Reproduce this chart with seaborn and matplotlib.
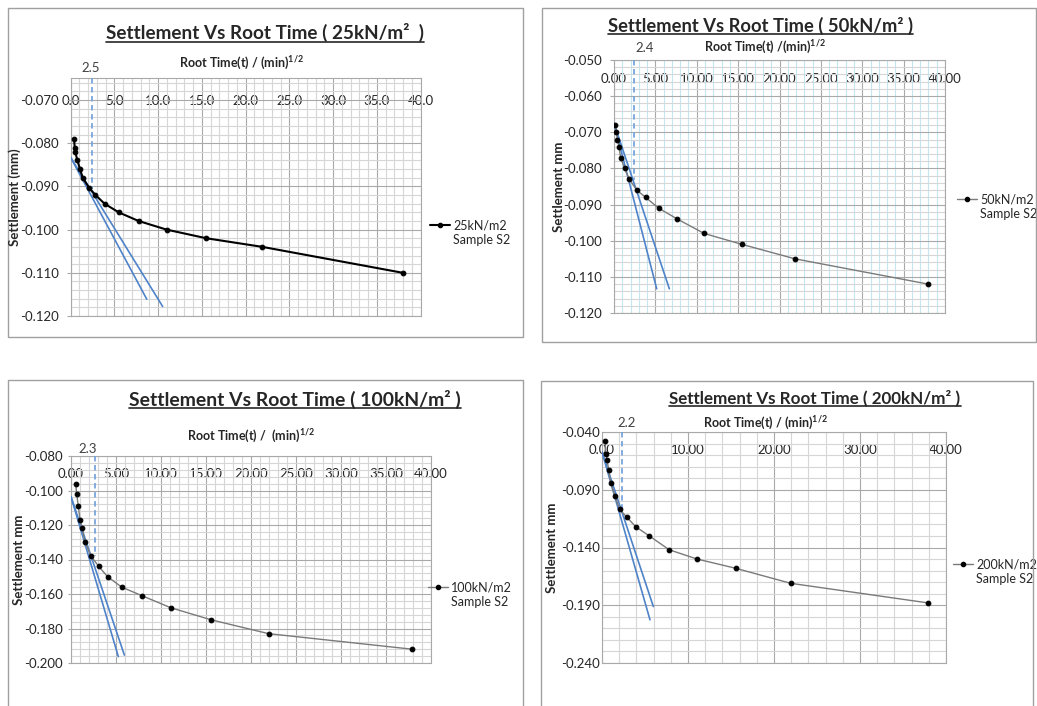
import matplotlib
matplotlib.use("Agg")
import matplotlib.pyplot as plt
import seaborn as sns
import pandas as pd
from matplotlib.lines import Line2D
from matplotlib.patches import Rectangle
from matplotlib.ticker import MultipleLocator, FormatStrFormatter

# ---------------- data ----------------
root_time_25 = [0.38, 0.46, 0.53, 0.76, 1.07, 1.37, 2.10, 2.83, 3.87, 5.48, 7.75, 10.95, 15.49, 21.91, 37.95]
settle_25 = [-0.079, -0.081, -0.082, -0.084, -0.086, -0.088, -0.0903, -0.092, -0.094, -0.096, -0.098, -0.100, -0.102, -0.104, -0.110]

root_time_50 = [0.15, 0.30, 0.42, 0.60, 0.80, 1.28, 1.85, 2.75, 3.82, 5.40, 7.65, 10.90, 15.45, 21.85, 37.95]
settle_50 = [-0.068, -0.070, -0.072, -0.074, -0.077, -0.080, -0.083, -0.086, -0.088, -0.091, -0.094, -0.098, -0.101, -0.105, -0.112]

root_time_100 = [0.52, 0.63, 0.81, 1.00, 1.26, 1.56, 2.22, 3.08, 4.07, 5.63, 7.89, 11.10, 15.60, 21.96, 37.90]
settle_100 = [-0.096, -0.102, -0.109, -0.117, -0.122, -0.130, -0.138, -0.144, -0.150, -0.156, -0.161, -0.168, -0.175, -0.183, -0.192]

root_time_200 = [0.35, 0.47, 0.58, 0.78, 1.01, 1.48, 2.06, 2.91, 3.92, 5.50, 7.83, 11.05, 15.55, 21.94, 37.94]
settle_200 = [-0.048, -0.059, -0.064, -0.073, -0.084, -0.095, -0.107, -0.114, -0.122, -0.130, -0.142, -0.150, -0.158, -0.171, -0.188]

# tangent lines (Taylor root-time construction): start value at x=0, end points of the two lines
tangent_start = [-0.0833, -0.0675, -0.1036, -0.0573]
tangent_a_end = [(8.69, -0.1161), (5.16, -0.1133), (5.26, -0.1963), (5.58, -0.2026)]
tangent_b_end = [(10.51, -0.1178), (6.69, -0.1133), (5.93, -0.1954), (5.97, -0.1911)]

# root t90 markers
t90_x = [2.45, 2.38, 2.65, 2.36]
t90_y_end = [-0.0905, -0.0832, -0.138, -0.106]
t90_labels = ["2.5", "2.4", "2.3", "2.2"]

titles = ["Settlement Vs Root Time ( 25kN/m\u00b2  )", "Settlement Vs Root Time ( 50kN/m\u00b2 )",
          "Settlement Vs Root Time ( 100kN/m\u00b2 )", "Settlement Vs Root Time ( 200kN/m\u00b2 )"]
xlabels = [r"Root Time(t) / (min)$^{\mathbf{1/2}}$", r"Root Time(t) /(min)$^{\mathbf{1/2}}$",
           r"Root Time(t) /  (min)$^{\mathbf{1/2}}$", r"Root Time(t) / (min)$^{\mathbf{1/2}}$"]
ylabels = ["Settlement (mm)", "Settlement mm", "Settlement mm", "Settlement mm"]
series_names = ["25kN/m2", "50kN/m2", "100kN/m2", "200kN/m2"]
sample_name = "Sample S2"

xs = [root_time_25, root_time_50, root_time_100, root_time_200]
ys = [settle_25, settle_50, settle_100, settle_200]

# ---------------- layout / style ----------------
W, H = 1037, 706
sns.set_theme(style="white")
plt.rcParams["font.family"] = ["Lato", "DejaVu Sans"]
plt.rcParams["axes.unicode_minus"] = False
plt.rcParams["mathtext.fontset"] = "custom"
plt.rcParams["mathtext.rm"] = "Lato"
plt.rcParams["mathtext.bf"] = "Lato:bold"

fig = plt.figure(figsize=(W / 100, H / 100), dpi=100)
fig.patch.set_facecolor("white")


def fx(px):
    return px / W


def fy(py):
    return 1 - py / H


layout = [
    dict(box=(8, 8, 523, 337), ax=(70.7, 78.4, 420.7, 316), ylim=(-0.120, -0.065), ymaj=0.01, yoff=0.0,
         ymin=0.002, xmaj=5, xmin=1, xfmt="%.1f", xpad=28.6, ypad=8, ytl=4, xminc="#d6d6d6",
         lc="#000000", lw=1.5, title=(265, 39.3, 316), xl=(241, 63), yl=(15,), leg=(430, 219.5),
         lab=(90.7, 68)),
    dict(box=(542, 8, 1036, 342), ax=(614, 60, 945, 313), ylim=(-0.120, -0.050), ymaj=0.01, yoff=0.0,
         ymin=0.002, xmaj=5, xmin=1, xfmt="%.2f", xpad=25, ypad=8, ytl=4, xminc="#c4e6f3",
         lc="#7a7a7a", lw=1.0, title=(760, 31.7, 305), xl=(765, 47), yl=(559,), leg=(957, 193.5),
         lab=(645, 48)),
    dict(box=(8, 380, 523, 720), ax=(71, 456, 431, 663), ylim=(-0.200, -0.080), ymaj=0.02, yoff=0.0,
         ymin=0.004, xmaj=5, xmin=1, xfmt="%.2f", xpad=24.3, ypad=5, ytl=3, xminc="#d6d6d6",
         lc="#7a7a7a", lw=1.0, title=(295, 405.7, 333), xl=(251, 436), yl=(19,), leg=(428, 581.5),
         lab=(88, 449)),
    dict(box=(541, 381, 1033, 720), ax=(602, 432, 946, 663), ylim=(-0.240, -0.040), ymaj=0.05, yoff=0.01,
         ymin=0.01, xmaj=10, xmin=2, xfmt="%.2f", xpad=24.3, ypad=2, ytl=0, xminc="#d6d6d6",
         lc="#7a7a7a", lw=1.0, title=(815, 403.3, 291), xl=(765, 423), yl=(552,), leg=(953, 558.5),
         lab=(627, 423)),
]

major_c = "#a9a9a9"
minor_c = "#d6d6d6"
blue = "#4f83c9"
dash_blue = "#78a5dc"
border_c = "#a0a0a0"
text_c = "#262626"
PT = 72 / 100  # points per pixel

title_texts = []
for i, L in enumerate(layout):
    bx0, by0, bx1, by1 = L["box"]
    fig.patches.append(Rectangle((fx(bx0), fy(by1)), fx(bx1 - bx0), (by1 - by0) / H, transform=fig.transFigure,
                                 fill=False, edgecolor=border_c, linewidth=1.0, zorder=0))
    ax0, ay0, ax1, ay1 = L["ax"]
    ax = fig.add_axes([fx(ax0), fy(ay1), fx(ax1 - ax0), (ay1 - ay0) / H])
    ax.set_xlim(0, 40)
    ax.set_ylim(*L["ylim"])

    # data series
    df = pd.DataFrame({"root_time": xs[i], "settlement": ys[i]})
    sns.lineplot(data=df, x="root_time", y="settlement", ax=ax, sort=False, estimator=None,
                 color=L["lc"], linewidth=L["lw"], marker="o", markersize=3.4,
                 markerfacecolor="black", markeredgecolor="black", zorder=5, legend=False)

    # tangent lines
    for end in (tangent_a_end[i], tangent_b_end[i]):
        tdf = pd.DataFrame({"x": [0.0, end[0]], "y": [tangent_start[i], end[1]]})
        sns.lineplot(data=tdf, x="x", y="y", ax=ax, sort=False, estimator=None, color=blue,
                     linewidth=1.2, zorder=4, legend=False)

    # t90 dashed marker
    top = L["ylim"][1]
    ddf = pd.DataFrame({"x": [t90_x[i], t90_x[i]], "y": [top, t90_y_end[i]]})
    sns.lineplot(data=ddf, x="x", y="y", ax=ax, sort=False, estimator=None, color=dash_blue,
                 linewidth=1.3, linestyle=(0, (3, 2)), zorder=4, legend=False)
    lx, ly = L["lab"]
    fig.text(fx(lx), fy(ly), t90_labels[i], ha="center", va="center", fontsize=9.5, color="#404040")

    # grid & ticks
    ax.xaxis.set_major_locator(MultipleLocator(L["xmaj"]))
    ax.xaxis.set_minor_locator(MultipleLocator(L["xmin"]))
    ax.yaxis.set_major_locator(MultipleLocator(L["ymaj"], offset=L["yoff"]))
    ax.yaxis.set_minor_locator(MultipleLocator(L["ymin"]))
    ax.xaxis.set_major_formatter(FormatStrFormatter(L["xfmt"]))
    ax.yaxis.set_major_formatter(FormatStrFormatter("%.3f"))
    ax.set_axisbelow(True)
    ax.grid(which="minor", axis="x", color=L["xminc"], linewidth=0.8)
    ax.grid(which="minor", axis="y", color=minor_c, linewidth=0.8)
    ax.grid(which="major", axis="both", color=major_c, linewidth=0.8)
    ax.tick_params(axis="x", which="both", length=0, top=False, bottom=False, labeltop=True,
                   labelbottom=False, pad=-L["xpad"] * PT, labelsize=9.5, labelcolor=text_c)
    ax.tick_params(axis="y", which="major", length=L["ytl"] * PT, width=0.8, color=major_c, left=True,
                   pad=L["ypad"] * PT, labelsize=9.5, labelcolor=text_c)
    ax.tick_params(axis="y", which="minor", length=0)
    for s in ax.spines.values():
        s.set_color(major_c)
        s.set_linewidth(0.8)

    # axis titles
    ax.set_xlabel("")
    ax.set_ylabel("")
    xlx, xly = L["xl"]
    fig.text(fx(xlx), fy(xly), xlabels[i], ha="center", va="center", fontsize=9, fontweight="bold",
             color=text_c)
    fig.text(fx(L["yl"][0]), fy((ay0 + ay1) / 2), ylabels[i], ha="center", va="center", rotation=90,
             fontsize=9.5, fontweight="bold", color=text_c)

    # legend
    h_line = Line2D([], [], color=L["lc"], linewidth=L["lw"], marker="o", markersize=3.0,
                    markerfacecolor="black", markeredgecolor="black")
    h_none = Line2D([], [], linestyle="none")
    lgx, lgy = L["leg"]
    ax.legend([h_line, h_none], [series_names[i], sample_name], loc="upper left",
              bbox_to_anchor=(fx(lgx), fy(lgy)), bbox_transform=fig.transFigure, frameon=False,
              handlelength=1.6, handletextpad=0.25, labelspacing=0.2, borderpad=0, borderaxespad=0,
              fontsize=9, numpoints=1, labelcolor=text_c)

    # chart title
    tx, tyb, tw = L["title"]
    t = fig.text(fx(tx), fy(tyb), titles[i], ha="center", va="baseline", fontsize=13,
                 fontweight="bold", color=text_c)
    title_texts.append((t, tw, tyb))

# fit title widths and underline them
fig.canvas.draw()
r = fig.canvas.get_renderer()
for t, tw, tyb in title_texts:
    w = t.get_window_extent(r).width
    t.set_fontsize(13 * tw / w)
fig.canvas.draw()
for t, tw, tyb in title_texts:
    bb = t.get_window_extent(r)
    uy = tyb + 2.2
    fig.add_artist(Line2D([fx(bb.x0), fx(bb.x1)], [fy(uy), fy(uy)], transform=fig.transFigure,
                          color=text_c, linewidth=1.2))

fig.savefig("out.png", dpi=100)
